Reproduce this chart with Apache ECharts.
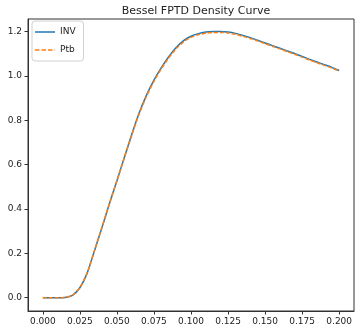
<!DOCTYPE html>
<html>
<head>
<meta charset="utf-8">
<script src="https://cdn.jsdelivr.net/npm/echarts@6/dist/echarts.min.js"></script>
<style>
  html, body { margin: 0; padding: 0; background: #fff; }
  #chart { width: 361px; height: 330px; }
</style>
</head>
<body>
<div id="chart"></div>
<script>
// sample times
const times = [0, 0.005, 0.01, 0.015, 0.02, 0.025, 0.03, 0.035, 0.04, 0.045,
  0.05, 0.055, 0.06, 0.065, 0.07, 0.075, 0.08, 0.085, 0.09, 0.095,
  0.1, 0.105, 0.11, 0.115, 0.12, 0.125, 0.13, 0.135, 0.14, 0.145,
  0.15, 0.155, 0.16, 0.165, 0.17, 0.175, 0.18, 0.185, 0.19, 0.195, 0.2];

const invDensity = [0, 0, 0, 0.001, 0.011, 0.045, 0.112, 0.215, 0.318, 0.425,
  0.527, 0.632, 0.735, 0.832, 0.913, 0.98, 1.037, 1.086, 1.127, 1.158,
  1.178, 1.19, 1.197, 1.2, 1.2, 1.197, 1.191, 1.182, 1.172, 1.16,
  1.148, 1.136, 1.124, 1.112, 1.1, 1.087, 1.074, 1.062, 1.05, 1.038, 1.024];

const ptbDensity = [0, 0, 0, 0.001, 0.011, 0.045, 0.112, 0.215, 0.318, 0.425,
  0.527, 0.63, 0.732, 0.828, 0.908, 0.975, 1.032, 1.081, 1.122, 1.153,
  1.173, 1.185, 1.192, 1.195, 1.195, 1.193, 1.187, 1.178, 1.168, 1.157,
  1.145, 1.133, 1.121, 1.109, 1.097, 1.084, 1.071, 1.059, 1.047, 1.035, 1.021];

const xTicks = [0, 0.025, 0.05, 0.075, 0.1, 0.125, 0.15, 0.175, 0.2];
const yTicks = [0, 0.2, 0.4, 0.6, 0.8, 1.0, 1.2];

const font = 'DejaVu Sans';
const textColor = '#222';

// legend icons: solid and dashed line samples
const solidIcon = 'path://M0,0h20v1.5h-20z';
const dashIcon = 'path://M0,0h4.5v1.5h-4.5z M6.5,0h4.5v1.5h-4.5z M13,0h4.5v1.5h-4.5z M19.5,0h0.5v1.5h-0.5z';

const chart = echarts.init(document.getElementById('chart'));
chart.setOption({
  animation: false,
  backgroundColor: '#fff',
  title: {
    text: 'Bessel FPTD Density Curve',
    left: 191,
    textAlign: 'center',
    top: 1,
    textStyle: { fontFamily: font, fontSize: 11, fontWeight: 'normal', color: textColor },
  },
  legend: {
    left: 32,
    top: 21,
    orient: 'vertical',
    itemWidth: 20,
    itemHeight: 1.5,
    itemGap: 8,
    padding: [6, 8, 6, 3],
    backgroundColor: '#fff',
    borderColor: '#d0d0d0',
    borderWidth: 1,
    borderRadius: 3,
    textStyle: { fontFamily: font, fontSize: 9, color: textColor, lineHeight: 10 },
    data: [
      { name: 'INV', icon: solidIcon },
      { name: 'Ptb', icon: dashIcon },
    ],
  },
  grid: {
    left: 28,
    right: 7,
    top: 19,
    bottom: 19,
    show: true,
    borderColor: '#333',
    borderWidth: 1,
  },
  xAxis: {
    type: 'value',
    min: -0.01,
    max: 0.21,
    splitLine: { show: false },
    axisLine: { onZero: false, lineStyle: { color: '#333' } },
    axisTick: { show: true, length: 3.5, lineStyle: { color: '#333' }, customValues: xTicks },
    axisLabel: {
      fontFamily: font, fontSize: 9, color: textColor, margin: 6,
      customValues: xTicks,
      formatter: v => v.toFixed(3),
    },
  },
  yAxis: {
    type: 'value',
    min: -0.0598,
    max: 1.2558,
    splitLine: { show: false },
    axisLine: { show: true, onZero: false, lineStyle: { color: '#333' } },
    axisTick: { show: true, length: 3.5, lineStyle: { color: '#333' }, customValues: yTicks },
    axisLabel: {
      fontFamily: font, fontSize: 9, color: textColor, margin: 6,
      customValues: yTicks,
      formatter: v => v.toFixed(1),
    },
  },
  series: [
    {
      name: 'INV',
      type: 'line',
      symbol: 'none',
      smooth: 0.2,
      data: times.map((t, i) => [t, invDensity[i]]),
      lineStyle: { color: '#1f77b4', width: 1.5 },
      itemStyle: { color: '#1f77b4' },
    },
    {
      name: 'Ptb',
      type: 'line',
      symbol: 'none',
      smooth: 0.2,
      data: times.map((t, i) => [t, ptbDensity[i]]),
      lineStyle: { color: '#ff7f0e', width: 1.5, type: [4, 2] },
      itemStyle: { color: '#ff7f0e' },
    },
  ],
});
</script>
</body>
</html>
